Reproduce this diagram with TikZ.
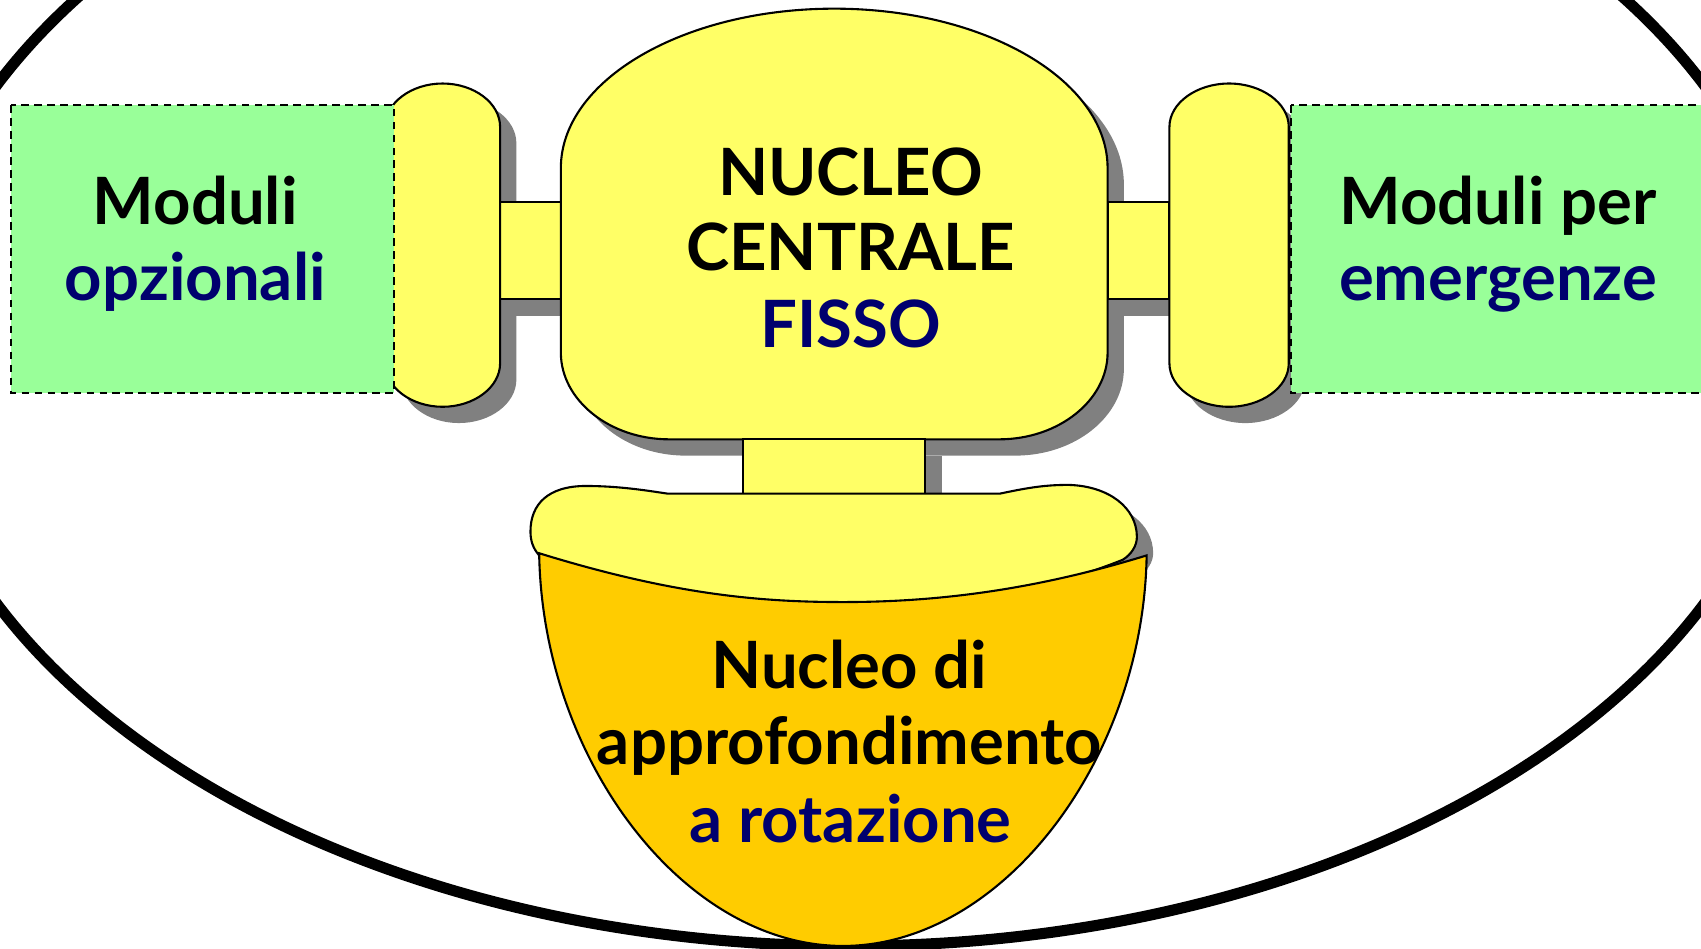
\documentclass[tikz,border=0pt]{standalone}
\usepackage{fontspec}
\setmainfont{Lato}
\definecolor{yel}{HTML}{FFFF66}
\definecolor{grn}{HTML}{99FF99}
\definecolor{org}{HTML}{FFCC00}
\definecolor{navy}{RGB}{0,0,110}
\definecolor{shd}{HTML}{808080}
\begin{document}
\begin{tikzpicture}[x=0.01cm,y=-0.01cm,
  outl/.style={draw=black,line width=0.55pt},
  greenbox/.style={fill=grn,draw=black,dash pattern=on 2pt off 1.4pt,line width=0.6pt},
  lbl/.style={font=\fontsize{17.1}{21}\selectfont\bfseries,inner sep=0pt,anchor=base},
  dark/.style={text=black},
  blu/.style={text=navy}]
\useasboundingbox (0,0) rectangle (1568,874);
\clip (0,0) rectangle (1568,874);
% outer ellipse
\draw[line width=2.9pt] (784,317.5) ellipse [x radius=872, y radius=554.5];
% shapes
\def\centralpath{(517,155) .. controls (517,74) and (630,8) .. (769,8) .. controls (908,8) and (1021,74) .. (1021,155) -- (1021,325) .. controls (1021,369) and (976,405) .. (921,405) -- (617,405) .. controls (562,405) and (517,369) .. (517,325) -- cycle}
\def\leftpill{(355,117) .. controls (355,95) and (379,77) .. (408,77) .. controls (437,77) and (461,95) .. (461,117) -- (461,335) .. controls (461,357) and (437,375) .. (408,375) .. controls (379,375) and (355,357) .. (355,335) -- cycle}
\def\rightpill{(1078,117) .. controls (1078,95) and (1103,77) .. (1133,77) .. controls (1163,77) and (1188,95) .. (1188,117) -- (1188,335) .. controls (1188,357) and (1163,375) .. (1133,375) .. controls (1103,375) and (1078,357) .. (1078,335) -- cycle}
\def\blobpath{(615,455) -- (922,455) .. controls (950,449) and (965,447) .. (985,447) .. controls (1022,448) and (1048,468) .. (1048,495) .. controls (1048,503) and (1043,511) .. (1035,516) .. controls (950,550) and (860,560) .. (777,560) .. controls (690,560) and (590,545) .. (497,512) .. controls (491,505) and (489,498) .. (489,490) .. controls (489,465) and (505,448) .. (540,448) .. controls (570,448) and (595,452) .. (615,455) -- cycle}
% shadows
\begin{scope}[shift={(15,15)}]
  \fill[shd] \centralpath;
  \fill[shd] (461,186) rectangle (517,276);
  \fill[shd] (1021,186) rectangle (1078,276);
  \fill[shd] \leftpill;
  \fill[shd] \rightpill;
  \fill[shd] (685,405) rectangle (853,455);
  \fill[shd] \blobpath;
\end{scope}
% connector bars
\filldraw[fill=yel,outl] (461,186) rectangle (517,276);
\filldraw[fill=yel,outl] (1021,186) rectangle (1078,276);
% central core
\filldraw[fill=yel,outl] \centralpath;
% pills
\filldraw[fill=yel,outl] \leftpill;
\filldraw[fill=yel,outl] \rightpill;
% stem
\filldraw[fill=yel,outl] (685,405) rectangle (853,455);
% lower blob
\filldraw[fill=yel,outl] \blobpath;
% cup
\filldraw[fill=org,outl] (497,510) .. controls (620,548) and (700,555) .. (777,555) .. controls (860,555) and (950,545) .. (1057,512) .. controls (1054,700) and (924,872) .. (777,872) .. controls (630,872) and (500,700) .. (497,510) -- cycle;
% green boxes
\filldraw[greenbox] (10,97) rectangle (363,362);
\filldraw[greenbox] (1190,97) rectangle (1590,362);
% texts
\node[lbl,dark] (m1) at (180,207) {Moduli};
\node[lbl,blu] (m2) at (180,277) {opzionali};
\node[lbl,dark] (e1) at (1381,207) {Moduli per};
\node[lbl,blu] (e2) at (1381,277) {emergenze};
\node[lbl,dark] (c1) at (784,180) {NUCLEO};
\node[lbl,dark] (c2) at (784,249) {CENTRALE};
\node[lbl,blu] (c3) at (784,320) {FISSO};
\node[lbl,dark] (r1) at (783,635) {Nucleo di};
\node[lbl,dark] (r2) at (783,705) {approfondimento};
\node[lbl,blu] (r3) at (784,777) {a rotazione};
\end{tikzpicture}
\end{document}
